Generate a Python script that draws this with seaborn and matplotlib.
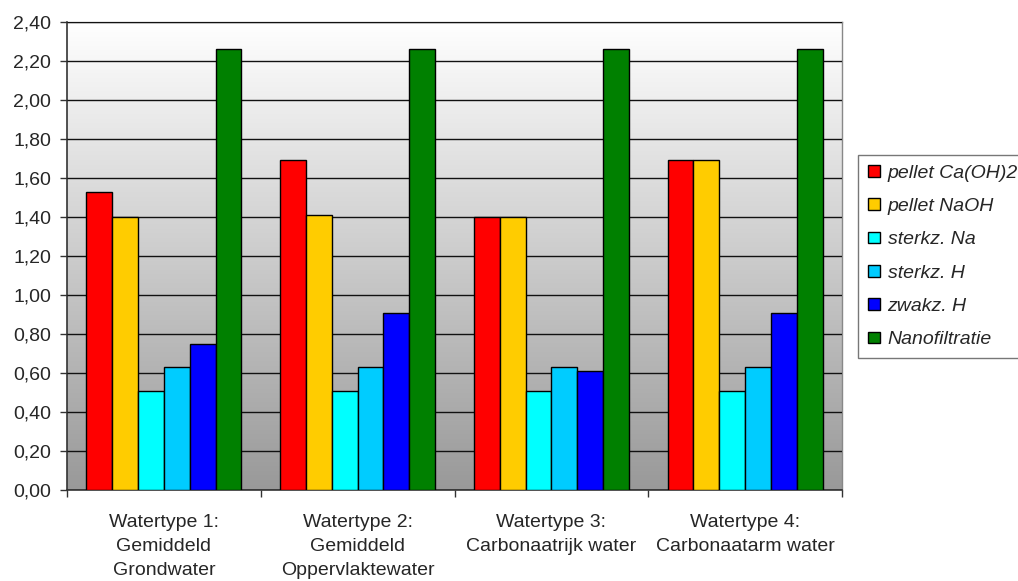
import numpy as np
import pandas as pd
import matplotlib
matplotlib.use("Agg")
import matplotlib.pyplot as plt
from matplotlib.patches import Patch
from matplotlib.ticker import MultipleLocator, FuncFormatter
import seaborn as sns

# Water types (x categories)
watertypes = [
    "Watertype 1:\nGemiddeld\nGrondwater",
    "Watertype 2:\nGemiddeld\nOppervlaktewater",
    "Watertype 3:\nCarbonaatrijk water",
    "Watertype 4:\nCarbonaatarm water",
]

# Treatment techniques (series)
techniques = ["pellet Ca(OH)2", "pellet NaOH", "sterkz. Na", "sterkz. H", "zwakz. H", "Nanofiltratie"]

# Values per technique, one per water type
pellet_caoh2 = [1.53, 1.69, 1.40, 1.69]
pellet_naoh = [1.40, 1.41, 1.40, 1.69]
sterkz_na = [0.51, 0.51, 0.51, 0.51]
sterkz_h = [0.63, 0.63, 0.63, 0.63]
zwakz_h = [0.75, 0.91, 0.61, 0.91]
nanofiltratie = [2.26, 2.26, 2.26, 2.26]

colors = ["#FF0000", "#FFCC00", "#00FFFF", "#00CCFF", "#0000FF", "#008000"]

series = [pellet_caoh2, pellet_naoh, sterkz_na, sterkz_h, zwakz_h, nanofiltratie]
df = pd.DataFrame(
    [(w, t, v) for t, vals in zip(techniques, series) for w, v in zip(watertypes, vals)],
    columns=["watertype", "techniek", "waarde"],
)

sns.set_theme(style="white")
plt.rcParams["font.family"] = ["Liberation Sans", "DejaVu Sans"]

fig = plt.figure(figsize=(10.18, 5.81), dpi=100)
ax = fig.add_axes([67 / 1018, 1 - 490 / 581, (842 - 67) / 1018, (490 - 22) / 581])

# Vertical grey gradient behind the plot
grad = np.linspace(0, 1, 256).reshape(-1, 1)
ax.imshow(grad, extent=[0, 1, 0, 1], transform=ax.transAxes, aspect="auto",
          cmap=matplotlib.colors.LinearSegmentedColormap.from_list("bg", ["#999999", "#FFFFFF"]),
          origin="lower", zorder=0)

sns.barplot(data=df, x="watertype", y="waarde", hue="techniek", hue_order=techniques,
            order=watertypes, palette=colors, width=0.8, edgecolor="black", linewidth=1.0,
            saturation=1, errorbar=None, legend=False, ax=ax, zorder=3)

ax.set_xlim(-0.5, 3.5)
ax.set_ylim(0, 2.40)
ax.yaxis.set_major_locator(MultipleLocator(0.2))
ax.yaxis.set_major_formatter(FuncFormatter(lambda v, p: f"{v:.2f}".replace(".", ",")))
ax.grid(axis="y", color="#111111", linewidth=1.0, zorder=1)
ax.set_axisbelow(False)
for line in ax.get_ygridlines():
    line.set_zorder(1)
ax.set_xlabel("")
ax.set_ylabel("")

# Ticks on category boundaries, labels centred on categories
ax.set_xticks([-0.5, 0.5, 1.5, 2.5, 3.5])
ax.set_xticklabels([])
ax.set_xticks(range(4), minor=True)
ax.set_xticklabels(watertypes, minor=True, fontsize=14, linespacing=1.55)
ax.tick_params(axis="x", which="minor", length=0, pad=17)
ax.tick_params(axis="x", which="major", direction="out", length=5, width=1, color="#333333", bottom=True)
ax.tick_params(axis="y", direction="out", length=5, width=1, color="#333333", left=True, labelsize=14, pad=6.5)

for side in ["left", "bottom"]:
    ax.spines[side].set_color("#333333")
    ax.spines[side].set_linewidth(1.2)
for side in ["top", "right"]:
    ax.spines[side].set_color("#888888")
    ax.spines[side].set_linewidth(1.0)

handles = [Patch(facecolor=c, edgecolor="black", linewidth=1.0) for c in colors]
leg = fig.legend(handles, techniques, loc="upper left", bbox_to_anchor=(858 / 1018, 1 - 155 / 581),
                 prop={"style": "italic", "size": 14}, frameon=True, fancybox=False,
                 handlelength=0.62, handleheight=0.55, handletextpad=0.4, labelspacing=0.84,
                 borderpad=0.5, borderaxespad=0)
leg.get_frame().set_edgecolor("#555555")
leg.get_frame().set_linewidth(1.0)

fig.savefig("out.png", dpi=100, facecolor="white")
